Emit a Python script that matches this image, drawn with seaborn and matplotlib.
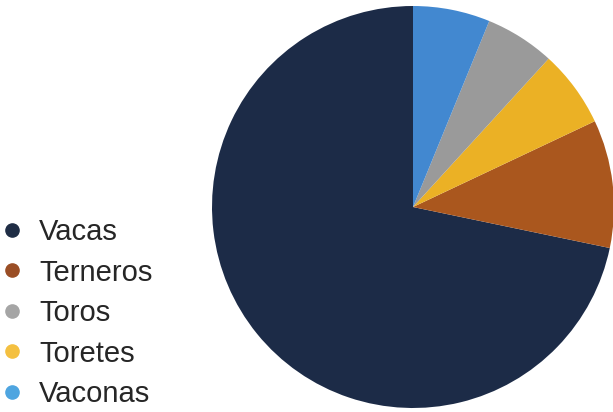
import matplotlib
matplotlib.use("Agg")
import matplotlib.pyplot as plt
from matplotlib.lines import Line2D
import seaborn as sns

# data (share of herd)
categories = ["Vacas", "Terneros", "Toros", "Toretes", "Vaconas"]
values = [71.8, 10.3, 5.6, 6.2, 6.2]
pie_colors = ["#1c2b47", "#aa571e", "#9a9a9a", "#ebb125", "#4288d0"]
legend_colors = ["#1f2d45", "#9a4e25", "#a5a5a5", "#f4c040", "#4ea5e0"]

# pie drawing order (counterclockwise from the top)
pie_order = ["Vacas", "Terneros", "Toretes", "Toros", "Vaconas"]

sns.set_theme(style="white")
plt.rcParams["font.family"] = ["Liberation Sans", "DejaVu Sans"]

fig = plt.figure(figsize=(6.13, 4.12), dpi=100)
ax = fig.add_axes([212 / 613, 4 / 412, 402 / 613, 402 / 412])

idx = [categories.index(c) for c in pie_order]
ax.pie([values[i] for i in idx], colors=[pie_colors[i] for i in idx],
       startangle=90, counterclock=True, radius=1.0,
       wedgeprops=dict(linewidth=0))
ax.set_aspect("equal")
ax.set_xlim(-1, 1)
ax.set_ylim(-1, 1)

handles = [Line2D([], [], marker="o", linestyle="none", markersize=9.5,
                  markerfacecolor=c, markeredgecolor=c) for c in legend_colors]
fig.legend(handles, categories, loc="upper left",
           bbox_to_anchor=(0.0, 1 - 218 / 412), frameon=False,
           fontsize=21, handlelength=0.8, handletextpad=0.54,
           labelspacing=0.43, borderaxespad=0, borderpad=0)

fig.savefig("out.png", dpi=100)
